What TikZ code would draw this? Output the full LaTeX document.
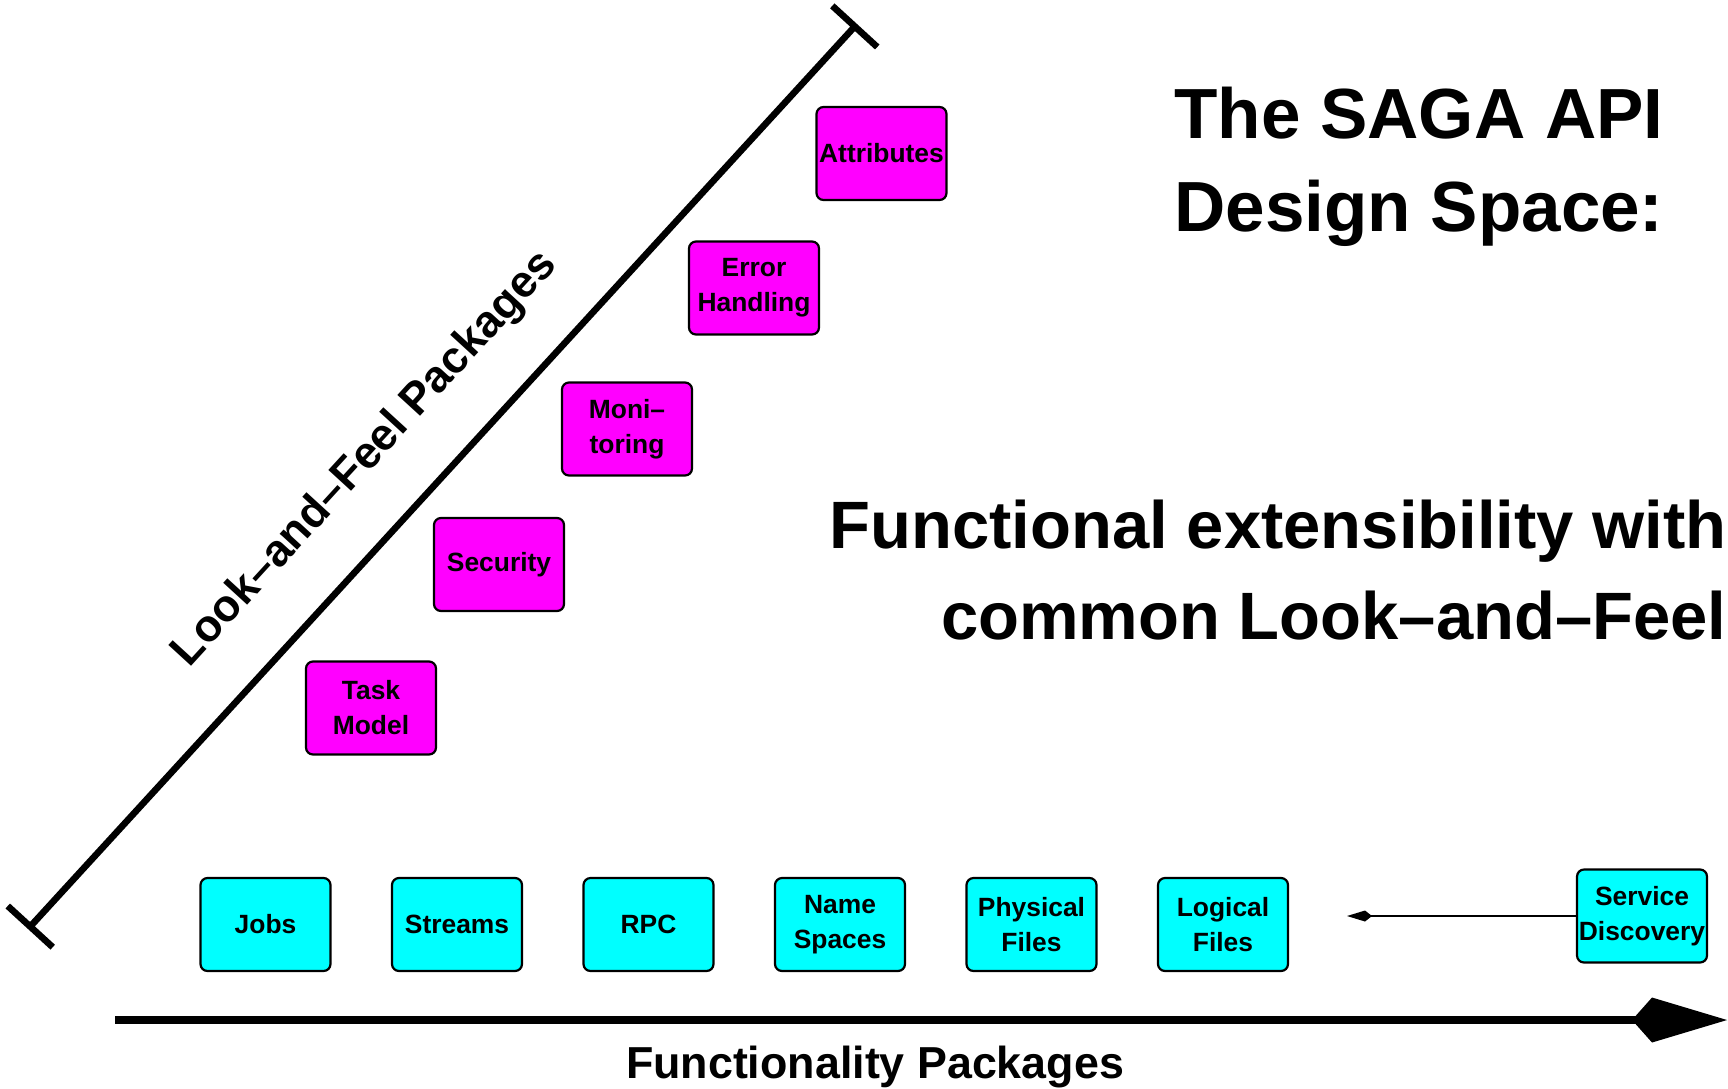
\documentclass[tikz,border=0pt]{standalone}
\usepackage{fontspec}
\setmainfont{Liberation Sans}
\usetikzlibrary{arrows.meta, positioning}
\definecolor{pkgcyan}{RGB}{0,255,255}
\definecolor{pkgmagenta}{RGB}{255,0,255}

\begin{document}
\begin{tikzpicture}[
    x=0.5pt, y=-0.5pt,
    font=\bfseries,
    pkg/.style={
        draw,
        rounded corners=3.5pt,
        line width=1.1pt,
        fill=#1,
        minimum width=65pt,
        minimum height=46.5pt,
        inner sep=0pt,
        align=center,
        font=\fontsize{13.2}{17.5}\selectfont\bfseries
    },
    pkg/.default=pkgcyan,
    headline/.style={
        inner sep=0pt,
        font=\fontsize{35.5}{46.5}\selectfont\bfseries
    },
    claimline/.style={
        inner sep=0pt,
        font=\fontsize{33.5}{45.5}\selectfont\bfseries
    },
    axislabel/.style={
        inner sep=0pt,
        font=\fontsize{22.4}{27}\selectfont\bfseries
    }
]
\useasboundingbox (0,0) rectangle (1728,1088);

\node[pkg] (jobs) at (265.5,924.5) {Jobs};
\node[pkg, right=29.65pt of jobs] (streams) {Streams};
\node[pkg, right=29.65pt of streams] (rpc) {RPC};
\node[pkg, right=29.65pt of rpc] (names) {Name\\Spaces};
\node[pkg, right=29.65pt of names] (physical) {Physical\\Files};
\node[pkg, right=29.65pt of physical] (logical) {Logical\\Files};
\node[pkg] (service) at (1642,916) {Service\\Discovery};

\node[pkg=pkgmagenta] (task) at (371,708) {Task\\Model};
\node[pkg=pkgmagenta] (security) at (499,564.5) {Security};
\node[pkg=pkgmagenta] (monitoring) at (627,429) {Moni--\\toring};
\node[pkg=pkgmagenta] (errors) at (754,288) {Error\\Handling};
\node[pkg=pkgmagenta] (attributes) at (881.5,153.5) {Attributes};

\coordinate (lfbot) at (28,929);
\coordinate (lftop) at (857,24);
\draw[line width=3.3pt, {Bar[width=30.5pt]}-{Bar[width=30.5pt]}] (lfbot) -- node[axislabel, sloped, pos=0.468, above=22pt] (lflabel) {Look--and--Feel Packages} (lftop);

\coordinate (fpstart) at (115,1020);
\coordinate (fpend) at (1727,1020);
\draw[line width=4pt, -{Kite[length=47.5pt, width=22.5pt, inset=10pt]}] (fpstart) -- (fpend);
\node[axislabel, anchor=base] (fplabel) at (875,1078) {Functionality Packages};

\coordinate (sdtip) at (1347,916);
\draw[line width=1pt, -{Kite[length=12.5pt, width=5.5pt, inset=3.5pt]}] (service.west) -- (sdtip);

\node[headline, anchor=base west] (title) at (1174,138) {The SAGA API};
\node[headline, anchor=base west] (subtitle) at (1174,231) {Design Space:};

\node[claimline, anchor=base east] (claim) at (1727,548) {Functional extensibility with};
\node[claimline, anchor=base east] (claimb) at (1727,639) {common Look--and--Feel};

\end{tikzpicture}
\end{document}
